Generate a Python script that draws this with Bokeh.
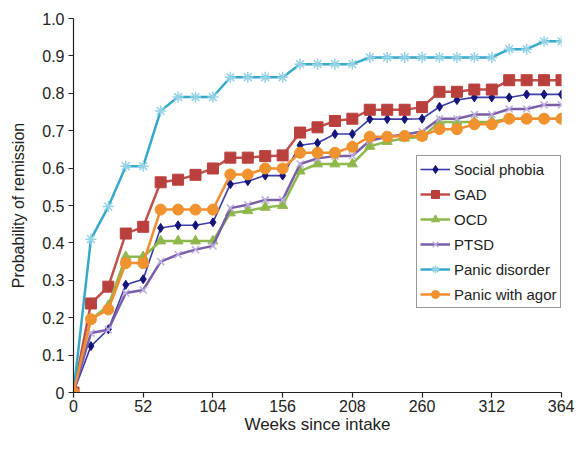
from bokeh.plotting import figure
from bokeh.models import Legend, LegendItem, FixedTicker, Range1d
from bokeh.embed import file_html
from bokeh.resources import INLINE

weeks = [0, 13, 26, 39, 52, 65, 78, 91, 104, 117, 130, 143, 156, 169, 182,
         195, 208, 221, 234, 247, 260, 273, 286, 299, 312, 325, 338, 351, 364]

social_phobia = [0, 0.124, 0.169, 0.288, 0.303, 0.440, 0.447, 0.447, 0.455, 0.557,
                 0.565, 0.580, 0.580, 0.661, 0.667, 0.691, 0.691, 0.731, 0.731, 0.731,
                 0.732, 0.764, 0.782, 0.789, 0.789, 0.789, 0.797, 0.797, 0.797]
gad = [0, 0.238, 0.283, 0.425, 0.443, 0.562, 0.569, 0.582, 0.599, 0.628,
       0.628, 0.632, 0.634, 0.695, 0.709, 0.726, 0.732, 0.756, 0.756, 0.756,
       0.763, 0.804, 0.804, 0.810, 0.810, 0.835, 0.835, 0.835, 0.835]
ocd = [0, 0.195, 0.232, 0.363, 0.363, 0.405, 0.405, 0.405, 0.405, 0.480,
       0.486, 0.495, 0.500, 0.592, 0.611, 0.611, 0.611, 0.658, 0.671, 0.680,
       0.683, 0.723, 0.723, 0.723, 0.724, 0.732, 0.732, 0.732, 0.732]
ptsd = [0, 0.159, 0.168, 0.266, 0.274, 0.350, 0.369, 0.382, 0.392, 0.493,
        0.502, 0.515, 0.515, 0.611, 0.626, 0.632, 0.633, 0.673, 0.684, 0.690,
        0.698, 0.732, 0.732, 0.743, 0.743, 0.758, 0.758, 0.769, 0.769]
panic_disorder = [0, 0.410, 0.497, 0.605, 0.605, 0.753, 0.790, 0.790, 0.790, 0.843,
                  0.843, 0.843, 0.843, 0.878, 0.878, 0.878, 0.878, 0.896, 0.896, 0.896,
                  0.896, 0.896, 0.896, 0.896, 0.896, 0.918, 0.918, 0.939, 0.939]
panic_agor = [0, 0.196, 0.222, 0.346, 0.346, 0.489, 0.489, 0.489, 0.489, 0.583,
              0.583, 0.599, 0.599, 0.641, 0.641, 0.641, 0.657, 0.684, 0.684, 0.686,
              0.686, 0.704, 0.704, 0.717, 0.717, 0.732, 0.732, 0.732, 0.732]

series_names = ["Social phobia", "GAD", "OCD", "PTSD", "Panic disorder", "Panic with agor"]
x_ticks = [0, 52, 104, 156, 208, 260, 312, 364]
y_ticks = [0, 0.1, 0.2, 0.3, 0.4, 0.5, 0.6, 0.7, 0.8, 0.9, 1.0]
y_tick_labels = ["0", "0.1", "0.2", "0.3", "0.4", "0.5", "0.6", "0.7", "0.8", "0.9", "1.0"]

FONT = "Liberation Sans"

p = figure(width=574, height=436, output_backend="svg", toolbar_location=None,
           x_range=Range1d(0, 364), y_range=Range1d(0, 1.0),
           min_border_left=73, min_border_right=13, min_border_top=18, min_border_bottom=43)
p.outline_line_color = None
p.grid.visible = False
p.background_fill_color = "white"
p.border_fill_color = "white"

for ax in (p.xaxis[0], p.yaxis[0]):
    ax.axis_line_color = "#222222"
    ax.axis_line_width = 1.2
    ax.major_tick_line_color = "#222222"
    ax.major_tick_line_width = 1.2
    ax.major_tick_out = 5
    ax.major_tick_in = 0
    ax.minor_tick_line_color = None
    ax.major_label_text_font = FONT
    ax.major_label_text_font_size = "16px"
    ax.major_label_text_color = "#222222"
    ax.axis_label_text_font = FONT
    ax.axis_label_text_font_style = "normal"
    ax.axis_label_text_color = "#222222"

p.xaxis.axis_label_text_font_size = "17px"
p.yaxis.axis_label_text_font_size = "16px"
p.xaxis.ticker = FixedTicker(ticks=x_ticks)
p.yaxis.ticker = FixedTicker(ticks=y_ticks)
p.yaxis.major_label_overrides = {t: l for t, l in zip(y_ticks, y_tick_labels)}
p.xaxis.axis_label = "Weeks since intake"
p.yaxis.axis_label = "Probability of remission"
p.xaxis.major_label_standoff = 2
p.yaxis.major_label_standoff = 4
p.xaxis.axis_label_standoff = 0
p.yaxis.axis_label_standoff = 12

styles = [
    (social_phobia, "#3c3ca8", 1.6, "diamond", 9, "#14147a", "#14147a"),
    (gad, "#c0504d", 2.5, "square", 11, "#b9403d", "#b9403d"),
    (ocd, "#8fb84c", 2.5, "triangle", 10, "#8fb84c", "#8fb84c"),
    (ptsd, "#7a5ea8", 2.5, "x", 10, "#bcaee0", "#bcaee0"),
    (panic_disorder, "#35a9c9", 2.5, "asterisk", 11, "#94d3e6", "#94d3e6"),
    (panic_agor, "#f38d30", 2.5, "circle", 11, "#f0922e", "#f0922e"),
]

items = []
for name, (vals, lc, lw, marker, size, mfill, mline) in zip(series_names, styles):
    r1 = p.line(weeks, vals, line_color=lc, line_width=lw)
    r2 = p.scatter(weeks, vals, marker=marker, size=size, fill_color=mfill,
                   line_color=mline, line_width=1.5 if marker in ("x", "asterisk") else 1)
    items.append(LegendItem(label=name, renderers=[r1, r2]))

legend = Legend(items=items, location=(343, 84), orientation="vertical")
legend.label_text_font = FONT
legend.label_text_font_size = "15px"
legend.label_text_color = "#222222"
legend.border_line_color = "#333333"
legend.border_line_width = 1
legend.background_fill_color = "white"
legend.background_fill_alpha = 1.0
legend.glyph_width = 30
legend.glyph_height = 20
legend.label_height = 20
legend.label_standoff = 4
legend.spacing = 5
legend.padding = 3
legend.margin = 0
p.add_layout(legend, "center")

open("out.html", "w").write(file_html(p, INLINE))
